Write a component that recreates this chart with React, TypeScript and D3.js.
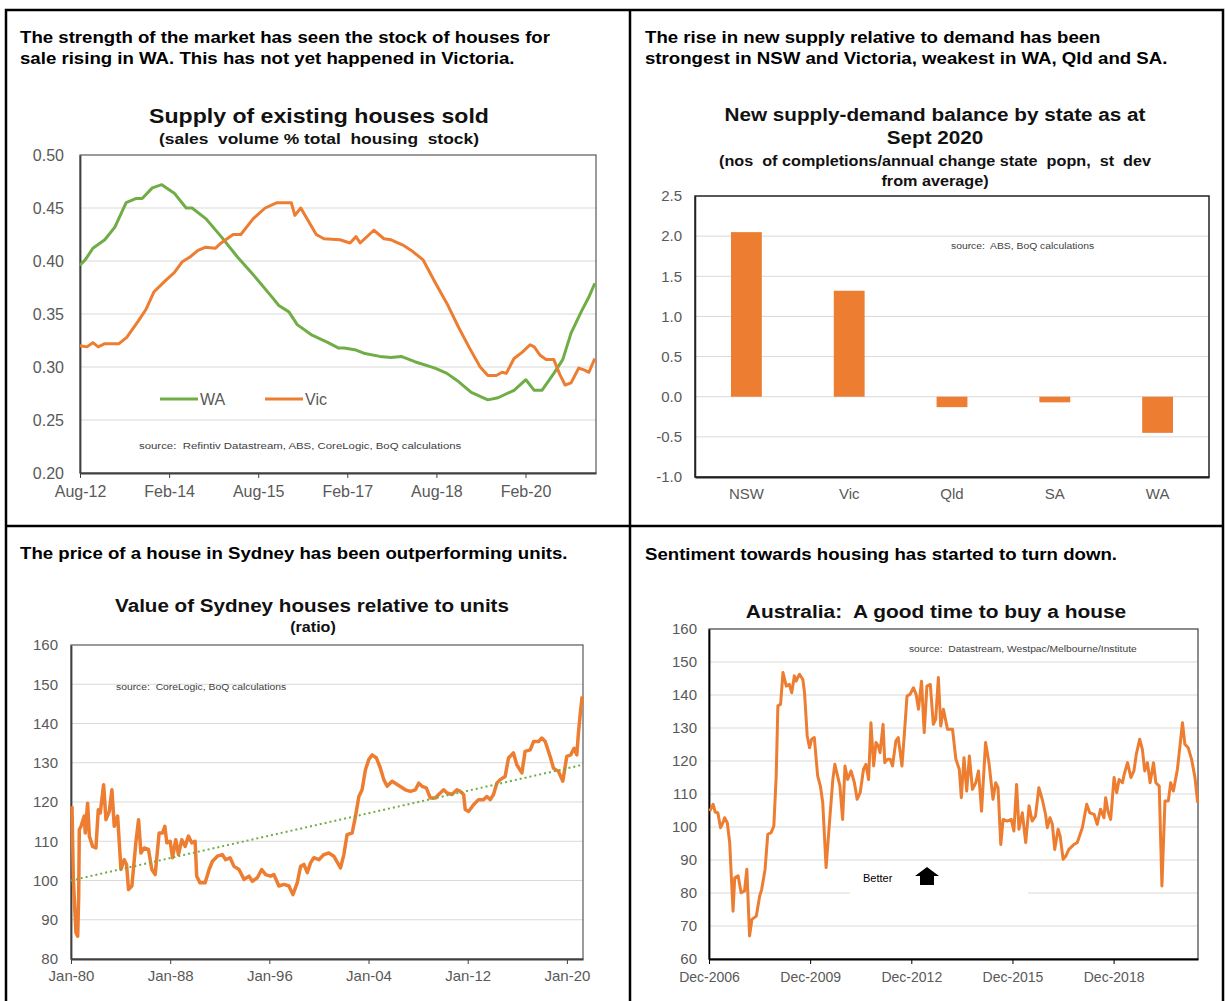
import { useEffect, useRef } from "react";
import * as d3 from "d3";

// ---- panel 1: supply of existing houses sold (year, % of stock)
const waSupply: [number, number][] = [
  [2012.58, 0.396], [2012.67, 0.401], [2012.8, 0.412], [2013.0, 0.42], [2013.17, 0.432],
  [2013.36, 0.455], [2013.53, 0.459], [2013.63, 0.459], [2013.8, 0.469], [2013.96, 0.472],
  [2014.17, 0.464], [2014.37, 0.45], [2014.47, 0.45], [2014.7, 0.44], [2014.96, 0.423],
  [2015.23, 0.404], [2015.5, 0.387], [2015.83, 0.365], [2015.93, 0.358], [2016.1, 0.352],
  [2016.24, 0.34], [2016.49, 0.33], [2016.76, 0.323], [2016.93, 0.318], [2017.03, 0.318],
  [2017.23, 0.316], [2017.36, 0.313], [2017.63, 0.31], [2017.82, 0.309], [2017.99, 0.31],
  [2018.22, 0.305], [2018.56, 0.299], [2018.76, 0.294], [2018.96, 0.286], [2019.17, 0.276],
  [2019.45, 0.269], [2019.62, 0.271], [2019.89, 0.278], [2020.09, 0.288], [2020.23, 0.278],
  [2020.36, 0.278], [2020.56, 0.294], [2020.71, 0.307], [2020.85, 0.332], [2021.02, 0.352],
  [2021.15, 0.366], [2021.25, 0.379],
];
const vicSupply: [number, number][] = [
  [2012.58, 0.32], [2012.7, 0.319], [2012.8, 0.323], [2012.89, 0.319], [2013.0, 0.322],
  [2013.24, 0.322], [2013.37, 0.328], [2013.56, 0.343], [2013.69, 0.354], [2013.83, 0.371],
  [2014.03, 0.382], [2014.17, 0.389], [2014.3, 0.399], [2014.44, 0.404], [2014.57, 0.41],
  [2014.7, 0.413], [2014.86, 0.412], [2014.96, 0.417], [2015.16, 0.425], [2015.29, 0.425],
  [2015.5, 0.44], [2015.7, 0.45], [2015.9, 0.455], [2016.14, 0.455], [2016.2, 0.443],
  [2016.3, 0.45], [2016.56, 0.425], [2016.69, 0.421], [2016.96, 0.42], [2017.13, 0.417],
  [2017.23, 0.423], [2017.3, 0.417], [2017.53, 0.429], [2017.7, 0.421], [2017.82, 0.42],
  [2018.02, 0.415], [2018.16, 0.41], [2018.36, 0.401], [2018.56, 0.38], [2018.76, 0.36],
  [2018.96, 0.337], [2019.13, 0.319], [2019.32, 0.3], [2019.45, 0.292], [2019.59, 0.292],
  [2019.69, 0.295], [2019.76, 0.294], [2019.89, 0.308], [2020.03, 0.314], [2020.16, 0.321],
  [2020.23, 0.319], [2020.33, 0.311], [2020.43, 0.307], [2020.56, 0.307], [2020.66, 0.293],
  [2020.75, 0.283], [2020.85, 0.285], [2020.98, 0.299], [2021.08, 0.297], [2021.15, 0.295],
  [2021.25, 0.308],
];
const supplyTickYears = [2012.583, 2014.083, 2015.583, 2017.083, 2018.583, 2020.083];
const supplyTickLabels = ["Aug-12", "Feb-14", "Aug-15", "Feb-17", "Aug-18", "Feb-20"];
const supplyYTicks = [0.2, 0.25, 0.3, 0.35, 0.4, 0.45, 0.5];

// ---- panel 2: supply-demand balance by state
const states = ["NSW", "Vic", "Qld", "SA", "WA"];
const balance = [2.05, 1.32, -0.13, -0.07, -0.45];
const balanceYTicks = [-1, -0.5, 0, 0.5, 1, 1.5, 2, 2.5];

// ---- panel 3: Sydney houses / units ratio
const sydneyRatio: [number, number][] = [
  [1980.08, 118.9], [1980.19, 100.3], [1980.32, 91.8], [1980.4, 86.7], [1980.54, 85.8],
  [1980.62, 96.0], [1980.67, 113.0], [1980.81, 113.8], [1981.07, 116.4], [1981.15, 112.1],
  [1981.34, 119.7], [1981.48, 111.3], [1981.74, 108.7], [1982.01, 108.3], [1982.2, 118.0],
  [1982.36, 117.2], [1982.63, 124.4], [1982.82, 115.5], [1983.09, 117.6], [1983.3, 123.1],
  [1983.49, 113.8], [1983.76, 116.4], [1984.03, 102.8], [1984.29, 105.3], [1984.48, 104.1],
  [1984.64, 97.7], [1984.91, 98.6], [1985.23, 109.6], [1985.45, 115.5], [1985.64, 107.0],
  [1985.9, 108.3], [1986.25, 107.9], [1986.52, 102.8], [1986.79, 101.5], [1987.11, 112.1],
  [1987.38, 112.1], [1987.57, 113.8], [1987.73, 109.6], [1988.0, 110.0], [1988.19, 105.8],
  [1988.45, 110.4], [1988.67, 106.6], [1988.94, 110.4], [1989.21, 108.7], [1989.47, 111.3],
  [1989.74, 109.6], [1990.01, 110.0], [1990.14, 101.1], [1990.41, 99.4], [1990.82, 99.4],
  [1991.14, 102.8], [1991.41, 104.9], [1991.81, 106.2], [1992.21, 106.6], [1992.48, 105.3],
  [1992.83, 105.8], [1993.15, 103.6], [1993.55, 102.8], [1993.96, 100.3], [1994.36, 101.1],
  [1994.63, 99.8], [1995.03, 100.7], [1995.38, 102.8], [1995.7, 101.5], [1996.1, 101.1],
  [1996.37, 101.5], [1996.77, 98.6], [1997.18, 99.0], [1997.58, 98.6], [1997.9, 96.4],
  [1998.25, 99.4], [1998.52, 103.6], [1998.79, 104.1], [1999.06, 102.0], [1999.32, 104.5],
  [1999.59, 105.8], [1999.99, 105.3], [2000.4, 106.6], [2000.8, 107.0], [2001.2, 106.2],
  [2001.74, 103.2], [2002.01, 106.6], [2002.27, 111.7], [2002.68, 112.1], [2002.95, 116.4],
  [2003.22, 121.4], [2003.48, 123.1], [2003.75, 128.2], [2004.02, 130.8], [2004.29, 132.0],
  [2004.64, 131.2], [2004.96, 128.6], [2005.23, 125.7], [2005.5, 124.0], [2005.9, 125.3],
  [2006.44, 124.2], [2006.97, 123.1], [2007.38, 122.7], [2007.78, 123.1], [2008.05, 124.8],
  [2008.32, 124.0], [2008.66, 123.6], [2008.99, 121.0], [2009.39, 121.0], [2009.66, 121.9],
  [2010.06, 123.1], [2010.33, 122.3], [2010.73, 121.9], [2011.13, 123.1], [2011.4, 122.7],
  [2011.67, 121.9], [2011.8, 118.1], [2012.07, 117.6], [2012.47, 119.3], [2012.87, 120.6],
  [2013.28, 120.6], [2013.55, 121.4], [2013.82, 120.6], [2014.08, 121.9], [2014.35, 124.8],
  [2014.62, 125.7], [2015.02, 126.5], [2015.29, 131.2], [2015.69, 132.5], [2015.96, 129.5],
  [2016.37, 127.4], [2016.63, 132.9], [2017.04, 133.3], [2017.31, 135.4], [2017.71, 135.4],
  [2017.98, 136.3], [2018.25, 135.4], [2018.65, 131.6], [2018.92, 128.6], [2019.32, 127.8],
  [2019.67, 125.3], [2019.99, 131.6], [2020.31, 132.0], [2020.58, 133.7], [2020.8, 132.0],
  [2020.93, 137.5], [2021.07, 142.2], [2021.23, 146.9],
];
const sydneyTrend: [number, number][] = [[1980.0, 100.0], [2021.3, 129.5]];
const sydneyTickYears = [1980, 1988, 1996, 2004, 2012, 2020];
const sydneyTickLabels = ["Jan-80", "Jan-88", "Jan-96", "Jan-04", "Jan-12", "Jan-20"];
const sydneyYTicks = [80, 90, 100, 110, 120, 130, 140, 150, 160];

// ---- panel 4: good time to buy a house index
const buyHouse: [number, number][] = [
  [2006.94, 104.8], [2007.04, 106.9], [2007.1, 104.5], [2007.18, 104.3], [2007.26, 99.8],
  [2007.33, 101.3], [2007.38, 102.8], [2007.46, 101.3], [2007.53, 95.3], [2007.63, 74.5],
  [2007.68, 84.6], [2007.78, 85.2], [2007.87, 80.1], [2007.97, 80.6], [2008.04, 87.2],
  [2008.12, 67.0], [2008.19, 72.0], [2008.32, 73.0], [2008.42, 79.1], [2008.48, 81.1],
  [2008.58, 87.2], [2008.66, 97.8], [2008.76, 98.3], [2008.84, 100.3], [2008.91, 115.5],
  [2008.96, 136.7], [2009.04, 137.2], [2009.11, 146.8], [2009.21, 142.7], [2009.3, 143.2],
  [2009.37, 140.7], [2009.45, 145.8], [2009.5, 144.2], [2009.6, 146.3], [2009.7, 144.7],
  [2009.75, 140.7], [2009.83, 127.6], [2009.9, 124.0], [2009.96, 126.6], [2010.04, 127.1],
  [2010.14, 115.5], [2010.22, 112.4], [2010.29, 107.4], [2010.39, 87.7], [2010.49, 101.3],
  [2010.59, 114.4], [2010.65, 119.0], [2010.73, 115.5], [2010.8, 112.4], [2010.88, 102.3],
  [2010.95, 118.5], [2011.03, 114.4], [2011.13, 117.0], [2011.23, 113.4], [2011.31, 108.4],
  [2011.4, 110.4], [2011.5, 117.5], [2011.57, 119.0], [2011.65, 114.4], [2011.72, 131.6],
  [2011.8, 118.5], [2011.87, 125.6], [2011.94, 124.5], [2011.99, 122.5], [2012.08, 131.1],
  [2012.13, 119.5], [2012.21, 120.5], [2012.29, 120.5], [2012.36, 118.5], [2012.46, 126.1],
  [2012.53, 127.1], [2012.64, 118.5], [2012.71, 128.1], [2012.79, 139.7], [2012.88, 140.2],
  [2012.98, 142.2], [2013.06, 140.2], [2013.13, 135.7], [2013.22, 144.2], [2013.3, 128.6],
  [2013.38, 142.7], [2013.48, 143.2], [2013.57, 131.1], [2013.64, 132.6], [2013.72, 145.3],
  [2013.79, 130.6], [2013.87, 135.7], [2013.99, 129.6], [2014.14, 129.6], [2014.24, 120.5],
  [2014.34, 117.5], [2014.4, 108.9], [2014.48, 121.0], [2014.56, 110.9], [2014.64, 121.5],
  [2014.73, 111.4], [2014.83, 113.4], [2014.91, 117.0], [2015.0, 104.8], [2015.12, 125.6],
  [2015.22, 119.5], [2015.34, 108.4], [2015.42, 113.4], [2015.49, 111.9], [2015.57, 94.7],
  [2015.64, 102.3], [2015.76, 101.8], [2015.88, 102.3], [2015.96, 98.8], [2016.04, 112.9],
  [2016.11, 99.3], [2016.21, 104.3], [2016.31, 95.3], [2016.41, 106.4], [2016.5, 101.8],
  [2016.6, 103.3], [2016.7, 111.9], [2016.8, 108.4], [2016.9, 103.8], [2016.95, 99.8],
  [2017.03, 102.8], [2017.1, 100.8], [2017.17, 93.2], [2017.27, 99.3], [2017.33, 97.3],
  [2017.42, 90.2], [2017.5, 91.2], [2017.59, 93.2], [2017.74, 94.7], [2017.84, 95.3],
  [2017.99, 99.8], [2018.12, 106.9], [2018.21, 104.3], [2018.34, 103.8], [2018.43, 100.8],
  [2018.53, 105.4], [2018.63, 102.8], [2018.68, 108.9], [2018.75, 104.8], [2018.83, 102.3],
  [2018.93, 115.0], [2019.01, 110.4], [2019.08, 114.4], [2019.18, 113.4], [2019.23, 115.9],
  [2019.33, 119.5], [2019.43, 115.0], [2019.52, 117.0], [2019.59, 122.0], [2019.69, 126.6],
  [2019.77, 123.5], [2019.84, 117.0], [2019.92, 119.5], [2020.0, 113.4], [2020.1, 119.5],
  [2020.17, 113.4], [2020.27, 112.4], [2020.35, 82.1], [2020.44, 107.9], [2020.54, 107.9],
  [2020.61, 113.4], [2020.69, 110.9], [2020.81, 117.5], [2020.96, 131.6], [2021.03, 125.1],
  [2021.13, 124.0], [2021.23, 120.5], [2021.33, 115.0], [2021.41, 107.4],
];
const buyTickYears = [2006.917, 2009.917, 2012.917, 2015.917, 2018.917];
const buyTickLabels = ["Dec-2006", "Dec-2009", "Dec-2012", "Dec-2015", "Dec-2018"];
const buyYTicks = [60, 70, 80, 90, 100, 110, 120, 130, 140, 150, 160];

const FONT = "'Liberation Sans', Arial, Helvetica, sans-serif";
const ORANGE = "#ED7D31";
const GREEN = "#70AD47";
const GRID = "#d9d9d9";
const LABEL = "#595959";

export default function App() {
  const svgRef = useRef<SVGSVGElement>(null);

  useEffect(() => {
    const svg = d3.select(svgRef.current);
    svg.selectAll("*").remove();
    svg.append("rect").attr("width", 1226).attr("height", 1001).attr("fill", "#fff");

    // text with an optional horizontal stretch (the source art is a bit wide)
    const text = (x: number, y: number, s: string, size: number, o: any = {}) =>
      svg
        .append("text")
        .attr("transform", `translate(${x},${y}) scale(${o.sx || 1},1)`)
        .attr("font-family", FONT)
        .attr("font-size", size)
        .attr("font-weight", o.bold ? "bold" : "normal")
        .attr("text-anchor", o.anchor || "start")
        .attr("fill", o.fill || "#000")
        .attr("word-spacing", o.ws || 0)
        .style("white-space", "pre")
        .text(s);

    // panel frames
    svg.append("rect").attr("x", 6).attr("y", 10).attr("width", 1217).attr("height", 1000)
      .attr("fill", "none").attr("stroke", "#000").attr("stroke-width", 2.5);
    svg.append("line").attr("x1", 630).attr("x2", 630).attr("y1", 10).attr("y2", 1001)
      .attr("stroke", "#000").attr("stroke-width", 2.5);
    svg.append("line").attr("x1", 6).attr("x2", 1223).attr("y1", 526).attr("y2", 526)
      .attr("stroke", "#000").attr("stroke-width", 2.5);

    // headings
    const H = { bold: true, sx: 1.165 };
    text(20, 43, "The strength of the market has seen the stock of houses for", 16, H);
    text(20, 64, "sale rising in WA. This has not yet happened in Victoria.", 16, H);
    text(645, 43, "The rise in new supply relative to demand has been", 16, H);
    text(645, 64, "strongest in NSW and Victoria, weakest in WA, Qld and SA.", 16, H);
    text(20, 559, "The price of a house in Sydney has been outperforming units.", 16, H);
    text(645, 560, "Sentiment towards housing has started to turn down.", 16, H);

    function linePanel(c: any) {
      const x = d3.scaleLinear().domain(c.xDomain).range([c.x0, c.x1]);
      const y = d3.scaleLinear().domain(c.yDomain).range([c.yBot, c.yTop]);
      const g = svg.append("g");
      g.selectAll("line.grid")
        .data(c.yTicks.slice(1, -1))
        .join("line")
        .attr("x1", c.x0).attr("x2", c.x1)
        .attr("y1", (d: number) => y(d)).attr("y2", (d: number) => y(d))
        .attr("stroke", GRID).attr("stroke-width", 1);
      g.append("rect")
        .attr("x", c.x0).attr("y", c.yTop)
        .attr("width", c.x1 - c.x0).attr("height", c.yBot - c.yTop)
        .attr("fill", "none").attr("stroke", c.frame).attr("stroke-width", 1.2);

      const ya = g.append("g").attr("transform", `translate(${c.x0},0)`)
        .call(d3.axisLeft(y).tickValues(c.yTicks).tickFormat(c.yFormat).tickSize(0).tickPadding(c.yPad));
      ya.select(".domain").attr("stroke", c.axis).attr("stroke-width", 1.8);
      ya.selectAll("text").attr("font-family", FONT).attr("font-size", c.fontY).attr("fill", LABEL);

      const xa = g.append("g").attr("transform", `translate(0,${c.yBot})`)
        .call(d3.axisBottom(x).tickValues(c.xTicks)
          .tickFormat((_d: any, i: number) => c.xLabels[i])
          .tickSize(5).tickSizeOuter(0).tickPadding(c.xPad));
      xa.select(".domain").attr("stroke", c.axis).attr("stroke-width", 1.8);
      xa.selectAll(".tick line").attr("stroke", c.axis);
      xa.selectAll("text").attr("font-family", FONT).attr("font-size", c.fontX).attr("fill", LABEL);
      return { x, y, g };
    }

    const line = (x: any, y: any) =>
      d3.line<[number, number]>().x((d) => x(d[0])).y((d) => y(d[1]));

    const T = { bold: true, anchor: "middle", fill: "#111" };

    // ---------- panel 1
    text(319, 123, "Supply of existing houses sold", 20, { ...T, sx: 1.155 });
    text(319, 144, "(sales  volume % total  housing  stock)", 15, { ...T, sx: 1.16 });
    const p1 = linePanel({
      x0: 80, x1: 596, yTop: 155, yBot: 473,
      xDomain: [2012.583, 2021.27], yDomain: [0.2, 0.5],
      yTicks: supplyYTicks, yFormat: (d: number) => d.toFixed(2), yPad: 16,
      xTicks: supplyTickYears, xLabels: supplyTickLabels, xPad: 8,
      fontX: 16, fontY: 16, frame: "#595959", axis: "#404040",
    });
    p1.g.append("path").datum(waSupply).attr("d", line(p1.x, p1.y))
      .attr("fill", "none").attr("stroke", GREEN).attr("stroke-width", 3).attr("stroke-linejoin", "round");
    p1.g.append("path").datum(vicSupply).attr("d", line(p1.x, p1.y))
      .attr("fill", "none").attr("stroke", ORANGE).attr("stroke-width", 3).attr("stroke-linejoin", "round");
    // legend
    [["WA", GREEN, 160], ["Vic", ORANGE, 265]].forEach(([name, col, lx]: any) => {
      p1.g.append("line").attr("x1", lx).attr("x2", lx + 38).attr("y1", 399).attr("y2", 399)
        .attr("stroke", col).attr("stroke-width", 3);
      text(lx + 40, 405, name, 16, { fill: LABEL });
    });
    text(139, 449, "source:  Refintiv Datastream, ABS, CoreLogic, BoQ calculations", 9.5, { fill: "#404040", sx: 1.2 });

    // ---------- panel 2
    text(935, 121, "New supply-demand balance by state as at", 19, { ...T, sx: 1.09 });
    text(935, 144, "Sept 2020", 19, { ...T, sx: 1.09 });
    text(935, 166, "(nos  of completions/annual change state  popn,  st  dev", 15, { ...T, sx: 1.08 });
    text(935, 186, "from average)", 15, { ...T, sx: 1.08 });
    {
      const x0 = 695, x1 = 1209, yTop = 196, yBot = 477;
      const x = d3.scaleBand().domain(states).range([x0, x1]).paddingInner(0.7).paddingOuter(0.35);
      const y = d3.scaleLinear().domain([-1, 2.5]).range([yBot, yTop]);
      const g = svg.append("g");
      g.selectAll("line.grid")
        .data(balanceYTicks.slice(1, -1))
        .join("line")
        .attr("x1", x0).attr("x2", x1)
        .attr("y1", (d) => y(d)).attr("y2", (d) => y(d))
        .attr("stroke", GRID).attr("stroke-width", 1);
      g.append("rect").attr("x", x0).attr("y", yTop).attr("width", x1 - x0).attr("height", yBot - yTop)
        .attr("fill", "none").attr("stroke", "#222").attr("stroke-width", 1.5);
      g.selectAll("rect.bar")
        .data(states)
        .join("rect")
        .attr("x", (d) => x(d)!)
        .attr("width", x.bandwidth())
        .attr("y", (_d, i) => y(Math.max(0, balance[i])))
        .attr("height", (_d, i) => Math.abs(y(balance[i]) - y(0)))
        .attr("fill", ORANGE);
      const ya = g.append("g").attr("transform", `translate(${x0},0)`)
        .call(d3.axisLeft(y).tickValues(balanceYTicks).tickFormat((d: any) => d.toFixed(1)).tickSize(0).tickPadding(13));
      ya.select(".domain").attr("stroke", "#222").attr("stroke-width", 1.5);
      ya.selectAll("text").attr("font-family", FONT).attr("font-size", 15).attr("fill", LABEL);
      const xa = g.append("g").attr("transform", `translate(0,${yBot})`)
        .call(d3.axisBottom(x).tickSize(0).tickPadding(11));
      xa.select(".domain").attr("stroke", "#222").attr("stroke-width", 1.8);
      xa.selectAll("text").attr("font-family", FONT).attr("font-size", 15).attr("fill", LABEL);
      text(951, 249, "source:  ABS, BoQ calculations", 9, { fill: "#404040", sx: 1.15 });
    }

    // ---------- panel 3
    text(312, 612, "Value of Sydney houses relative to units", 19, { ...T, sx: 1.085 });
    text(313, 632, "(ratio)", 14, { ...T, sx: 1.15 });
    const p3 = linePanel({
      x0: 71, x1: 583, yTop: 645, yBot: 959,
      xDomain: [1980, 2021.3], yDomain: [80, 160],
      yTicks: sydneyYTicks, yFormat: (d: number) => String(d), yPad: 13,
      xTicks: sydneyTickYears, xLabels: sydneyTickLabels, xPad: 6,
      fontX: 15, fontY: 15, frame: "#595959", axis: "#404040",
    });
    p3.g.append("path").datum(sydneyRatio).attr("d", line(p3.x, p3.y))
      .attr("fill", "none").attr("stroke", ORANGE).attr("stroke-width", 3.5).attr("stroke-linejoin", "round");
    p3.g.append("path").datum(sydneyTrend).attr("d", line(p3.x, p3.y))
      .attr("fill", "none").attr("stroke", GREEN).attr("stroke-width", 2).attr("stroke-dasharray", "2,3");
    text(116, 690, "source:  CoreLogic, BoQ calculations", 9, { fill: "#404040", sx: 1.15 });

    // ---------- panel 4
    text(936, 618, "Australia:  A good time to buy a house", 19, { ...T, sx: 1.1 });
    const p4 = linePanel({
      x0: 709, x1: 1198, yTop: 629, yBot: 959,
      xDomain: [2006.917, 2021.42], yDomain: [60, 160],
      yTicks: buyYTicks, yFormat: (d: number) => String(d), yPad: 12,
      xTicks: buyTickYears, xLabels: buyTickLabels, xPad: 8,
      fontX: 14, fontY: 15, frame: "#404040", axis: "#000",
    });
    p4.g.append("rect").attr("x", 850).attr("y", 864).attr("width", 178).attr("height", 34).attr("fill", "#fff");
    text(863, 882, "Better", 11, { fill: "#000" });
    p4.g.append("path")
      .attr("d", "M927,867 L939,876 L934,876 L934,885 L920,885 L920,876 L915,876 Z")
      .attr("fill", "#000");
    p4.g.append("path").datum(buyHouse).attr("d", line(p4.x, p4.y))
      .attr("fill", "none").attr("stroke", ORANGE).attr("stroke-width", 3).attr("stroke-linejoin", "round");
    text(909, 652, "source:  Datastream, Westpac/Melbourne/Institute", 9, { fill: "#404040", sx: 1.14 });
  }, []);

  return (
    <svg
      ref={svgRef}
      width={1226}
      height={1001}
      style={{ position: "absolute", left: 0, top: 0, display: "block" }}
    />
  );
}
